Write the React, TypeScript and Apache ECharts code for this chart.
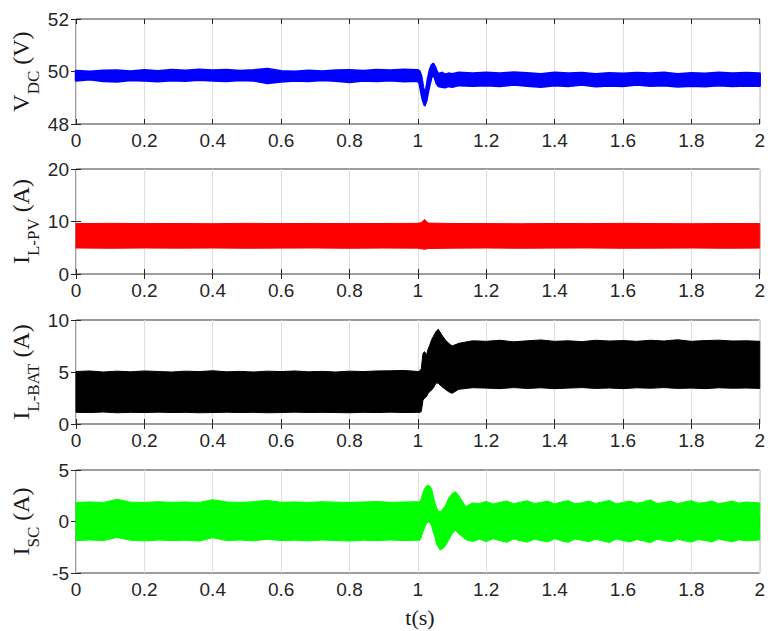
import React, { useEffect, useRef } from 'react';
import * as echarts from 'echarts';

// ---------- time samples ----------
const tPre = [0, 0.04, 0.08, 0.12, 0.16, 0.2, 0.24, 0.28, 0.32, 0.36, 0.4, 0.44, 0.48, 0.52, 0.56, 0.6, 0.64, 0.68, 0.72, 0.76, 0.8, 0.84, 0.88, 0.92, 0.96, 1.0];
const tTrans = [1.005, 1.01, 1.015, 1.02, 1.025, 1.03, 1.035, 1.04, 1.045, 1.05, 1.055, 1.06, 1.07, 1.08, 1.09, 1.1, 1.12, 1.16];
const tPost = [1.2, 1.24, 1.28, 1.32, 1.36, 1.4, 1.44, 1.48, 1.52, 1.56, 1.6, 1.64, 1.68, 1.72, 1.76, 1.8, 1.84, 1.88, 1.92, 1.96, 2.0];
const tMain = [...tPre, ...tTrans, ...tPost];

// ---------- V_DC envelope ----------
const vdcUpper = [
  50.02, 49.99, 50.03, 50.04, 50.00, 50.05, 50.01, 50.06, 50.03, 50.07, 50.04, 50.06, 50.02, 50.05, 50.10, 50.01, 49.99, 50.03, 50.00, 50.04, 50.05, 50.02, 50.06, 50.04, 50.07, 50.05,
  50.00, 49.80, 49.40, 49.15, 49.35, 49.75, 50.05, 50.22, 50.29, 50.18, 50.00, 49.90, 49.95, 49.88, 49.92, 49.90, 49.95, 49.92,
  49.95, 49.92, 49.96, 49.93, 49.90, 49.95, 49.92, 49.94, 49.90, 49.93, 49.91, 49.94, 49.92, 49.95, 49.90, 49.93, 49.91, 49.95, 49.92, 49.94, 49.92,
];
const vdcLower = [
  49.66, 49.70, 49.64, 49.62, 49.68, 49.66, 49.63, 49.67, 49.65, 49.69, 49.66, 49.64, 49.68, 49.66, 49.56, 49.62, 49.66, 49.64, 49.68, 49.65, 49.60, 49.66, 49.64, 49.67, 49.63, 49.65,
  49.55, 49.20, 48.90, 48.72, 48.90, 49.25, 49.55, 49.80, 49.88, 49.75, 49.55, 49.45, 49.42, 49.40, 49.45, 49.42, 49.48, 49.46,
  49.48, 49.45, 49.50, 49.46, 49.42, 49.48, 49.45, 49.50, 49.44, 49.47, 49.45, 49.50, 49.46, 49.48, 49.43, 49.46, 49.44, 49.48, 49.45, 49.47, 49.46,
];

// ---------- I_L-PV envelope ----------
const tPV = [0, 0.1, 0.2, 0.3, 0.4, 0.5, 0.6, 0.7, 0.8, 0.9, 1.0, 1.01, 1.02, 1.03, 1.1, 1.2, 1.3, 1.4, 1.5, 1.6, 1.7, 1.8, 1.9, 2.0];
const pvUpper = [9.6, 9.65, 9.6, 9.62, 9.58, 9.65, 9.6, 9.63, 9.6, 9.62, 9.65, 9.8, 10.4, 9.7, 9.62, 9.6, 9.58, 9.62, 9.6, 9.65, 9.6, 9.58, 9.62, 9.6];
const pvLower = [4.95, 4.9, 4.95, 4.92, 4.95, 4.9, 4.93, 4.95, 4.9, 4.94, 4.92, 4.8, 4.7, 4.85, 4.92, 4.95, 4.9, 4.93, 4.95, 4.9, 4.92, 4.95, 4.9, 4.93];

// ---------- I_L-BAT envelope ----------
const batUpper = [
  5.05, 5.10, 5.00, 5.08, 5.02, 5.10, 5.05, 5.00, 5.08, 5.04, 5.12, 5.02, 5.06, 5.00, 5.08, 5.04, 5.10, 5.02, 5.06, 5.00, 5.08, 5.04, 5.10, 5.12, 5.15, 5.05,
  5.10, 5.30, 6.80, 6.95, 6.60, 7.20, 7.60, 8.08, 8.40, 8.72, 8.97, 9.10, 8.56, 8.10, 7.76, 7.50, 7.76, 8.00,
  7.95, 8.05, 7.90, 8.00, 8.08, 7.95, 8.00, 7.92, 8.05, 7.98, 8.02, 7.95, 8.05, 7.98, 8.10, 7.95, 8.02, 8.06, 7.98, 8.00, 7.95,
];
const batLower = [
  1.12, 1.10, 1.15, 1.08, 1.12, 1.10, 1.14, 1.10, 1.12, 1.08, 1.10, 1.13, 1.10, 1.12, 1.08, 1.10, 1.14, 1.10, 1.12, 1.10, 1.08, 1.12, 1.10, 1.14, 1.10, 1.12,
  1.10, 1.20, 2.30, 2.50, 2.63, 2.95, 3.10, 3.27, 3.43, 3.75, 3.97, 3.90, 3.60, 3.34, 3.10, 2.95, 3.34, 3.49,
  3.45, 3.40, 3.50, 3.42, 3.48, 3.40, 3.45, 3.50, 3.42, 3.46, 3.40, 3.48, 3.44, 3.50, 3.42, 3.45, 3.40, 3.48, 3.44, 3.46, 3.42,
];

// ---------- I_SC envelope ----------
const tSCTrans = [1.005, 1.01, 1.015, 1.02, 1.025, 1.03, 1.035, 1.04, 1.045, 1.05, 1.055, 1.06, 1.065, 1.07, 1.08, 1.09, 1.1, 1.11, 1.12, 1.14, 1.16];
const tSCPost = [1.18, 1.2, 1.22, 1.24, 1.26, 1.28, 1.3, 1.32, 1.34, 1.36, 1.38, 1.4, 1.42, 1.44, 1.46, 1.48, 1.5, 1.52, 1.54, 1.56, 1.58, 1.6, 1.62, 1.64, 1.66, 1.68, 1.7, 1.72, 1.74, 1.76, 1.78, 1.8, 1.82, 1.84, 1.86, 1.88, 1.9, 1.92, 1.94, 1.96, 1.98, 2.0];
const tSC = [...tPre, ...tSCTrans, ...tSCPost];
const scUpper = [
  1.85, 1.90, 1.85, 2.15, 1.88, 1.85, 1.92, 1.86, 1.90, 1.85, 2.12, 1.90, 1.85, 1.92, 2.05, 1.86, 1.90, 1.85, 1.92, 1.88, 1.85, 1.90, 1.94, 1.86, 1.90, 1.92,
  1.90, 2.20, 2.80, 3.22, 3.45, 3.50, 3.45, 3.20, 2.50, 1.80, 1.30, 1.00, 0.95, 1.10, 1.50, 2.25, 2.70, 2.90, 2.50, 1.45, 1.80,
  1.75, 1.95, 1.70, 1.85, 2.00, 1.72, 1.88, 2.02, 1.75, 1.85, 1.98, 1.70, 1.90, 2.02, 1.72, 1.82, 1.98, 1.75, 1.90, 2.05, 1.72, 1.85, 1.98, 1.78, 1.90, 2.10, 1.75, 1.85, 1.98, 1.72, 1.90, 2.02, 1.78, 1.85, 1.98, 1.72, 1.85, 1.98, 1.78, 1.90, 1.85, 1.80,
];
const scLower = [
  -1.85, -1.80, -1.85, -1.55, -1.82, -1.88, -1.80, -1.85, -1.82, -1.90, -1.58, -1.85, -1.80, -1.88, -1.72, -1.85, -1.82, -1.88, -1.80, -1.85, -1.90, -1.82, -1.85, -1.80, -1.85, -1.82,
  -1.85, -1.50, -1.00, -0.60, -0.20, -0.05, -0.10, -0.40, -1.00, -1.50, -2.20, -2.50, -2.77, -2.70, -2.40, -1.80, -1.20, -0.85, -1.20, -1.75, -1.95,
  -1.72, -1.95, -1.68, -1.85, -2.02, -1.70, -1.86, -2.00, -1.72, -1.85, -1.98, -1.68, -1.88, -2.02, -1.70, -1.82, -1.96, -1.72, -1.88, -2.04, -1.70, -1.84, -1.98, -1.75, -1.88, -2.06, -1.72, -1.85, -1.96, -1.70, -1.88, -2.00, -1.75, -1.84, -1.98, -1.70, -1.85, -1.96, -1.76, -1.88, -1.84, -1.80,
];

// ---------- axes ----------
const yRanges = [
  { min: 48, max: 52, interval: 2 },
  { min: 0, max: 20, interval: 10 },
  { min: 0, max: 10, interval: 5 },
  { min: -5, max: 5, interval: 5 },
];
const panelTitles = [
  { main: 'V', sub: 'DC', unit: ' (V)' },
  { main: 'I', sub: 'L-PV', unit: ' (A)' },
  { main: 'I', sub: 'L-BAT', unit: ' (A)' },
  { main: 'I', sub: 'SC', unit: ' (A)' },
];
const xLabelTitle = 't(s)';

const SANS = '"Liberation Sans", Arial, Helvetica, sans-serif';
const SERIF = '"Liberation Serif", "Times New Roman", serif';
const AXIS_COLOR = '#262626';

export default function App() {
  const ref = useRef<HTMLDivElement>(null);

  useEffect(() => {
    if (!ref.current) return;
    const chart = echarts.init(ref.current, undefined, { renderer: 'svg' });

    const gridTops = [19, 169, 320, 470];
    const gridHeights = [105, 105, 104, 103];
    const left = 76;
    const width = 685.5;

    const grids = gridTops.map((top, i) => ({
      left,
      top,
      width,
      height: gridHeights[i],
      show: true,
      borderColor: '#3a3a3a',
      borderWidth: 1,
      backgroundColor: 'transparent',
    }));

    const xAxes: any[] = [];
    const yAxes: any[] = [];
    gridTops.forEach((_, i) => {
      xAxes.push({
        type: 'value',
        gridIndex: i,
        min: 0,
        max: 2,
        interval: 0.2,
        position: 'bottom',
        axisLine: { show: false },
        axisTick: { show: true, inside: true, length: 5, lineStyle: { color: AXIS_COLOR } },
        splitLine: { show: true, lineStyle: { color: '#dedede', width: 1 } },
        axisLabel: {
          show: true,
          margin: 7,
          fontSize: 19,
          fontFamily: SANS,
          color: AXIS_COLOR,
          formatter: (v: number) => String(Math.round(v * 10) / 10),
        },
      });
      xAxes.push({
        type: 'value',
        gridIndex: i,
        min: 0,
        max: 2,
        interval: 0.2,
        position: 'top',
        axisLine: { show: false },
        axisTick: { show: true, inside: true, length: 5, lineStyle: { color: AXIS_COLOR } },
        splitLine: { show: false },
        axisLabel: { show: false },
      });
      const r = yRanges[i];
      yAxes.push({
        type: 'value',
        gridIndex: i,
        min: r.min,
        max: r.max,
        interval: r.interval,
        position: 'left',
        axisLine: { show: false },
        axisTick: { show: true, inside: true, length: 5, lineStyle: { color: AXIS_COLOR } },
        splitLine: { show: false },
        axisLabel: { show: true, margin: 7, fontSize: 19, fontFamily: SANS, color: AXIS_COLOR },
      });
      yAxes.push({
        type: 'value',
        gridIndex: i,
        min: r.min,
        max: r.max,
        interval: r.interval,
        position: 'right',
        axisLine: { show: false },
        axisTick: { show: true, inside: true, length: 5, lineStyle: { color: AXIS_COLOR } },
        splitLine: { show: false },
        axisLabel: { show: false },
      });
    });

    // Each data item is one sample of the envelope: [t, lo, hi]; the whole band is drawn as one polygon.
    const band = (gi: number, t: number[], lo: number[], hi: number[], color: string, w: number) => {
      const n = Math.min(t.length, lo.length, hi.length);
      const pts: number[][] = [];
      for (let k = 0; k < n; k++) pts.push([t[k], lo[k], hi[k]]);
      return {
        type: 'custom',
        xAxisIndex: gi * 2,
        yAxisIndex: gi * 2,
        silent: true,
        z: 3,
        encode: { x: 0, y: [1, 2] },
        data: pts,
        renderItem: (params: any, api: any) => {
          if (params.dataIndexInside !== 0) return null;
          const len = params.dataInsideLength;
          const top: number[][] = [];
          const bottom: number[][] = [];
          for (let k = 0; k < len; k++) {
            top.push(api.coord([api.value(0, k), api.value(2, k)]));
            bottom.push(api.coord([api.value(0, k), api.value(1, k)]));
          }
          bottom.reverse();
          return {
            type: 'polygon',
            shape: { points: [...top, ...bottom] },
            style: { fill: color, stroke: color, lineWidth: w, lineJoin: 'round' },
          };
        },
      };
    };

    const series = [
      band(0, tMain, vdcLower, vdcUpper, '#0000ff', 2.5),
      band(1, tPV, pvLower, pvUpper, '#ff0000', 1),
      band(2, tMain, batLower, batUpper, '#000000', 1),
      band(3, tSC, scLower, scUpper, '#00ff00', 1),
    ];

    const graphics: any[] = panelTitles.map((p, i) => ({
      type: 'text',
      x: 20.5,
      y: gridTops[i] + gridHeights[i] / 2,
      rotation: Math.PI / 2,
      style: {
        text: `{m|${p.main}}{s|${p.sub}}{m|${p.unit}}`,
        align: 'center',
        verticalAlign: 'middle',
        rich: {
          m: { fontSize: 24, fontFamily: SERIF, fill: '#1a1a1a' },
          s: { fontSize: 17, fontFamily: SERIF, fill: '#1a1a1a', padding: [25, 0, 0, 0], verticalAlign: 'bottom' },
        },
      },
    }));
    graphics.push({
      type: 'text',
      x: 420,
      y: 617,
      style: {
        text: xLabelTitle,
        fontSize: 22,
        fontFamily: SERIF,
        fill: '#1a1a1a',
        align: 'center',
        verticalAlign: 'middle',
      },
    });

    chart.setOption({
      animation: false,
      backgroundColor: '#ffffff',
      grid: grids,
      xAxis: xAxes,
      yAxis: yAxes,
      series,
      graphic: graphics,
    });

    return () => {
      chart.dispose();
    };
  }, []);

  return (
    <div
      ref={ref}
      style={{ position: 'fixed', left: 0, top: 0, width: 768, height: 631, background: '#fff' }}
    />
  );
}
